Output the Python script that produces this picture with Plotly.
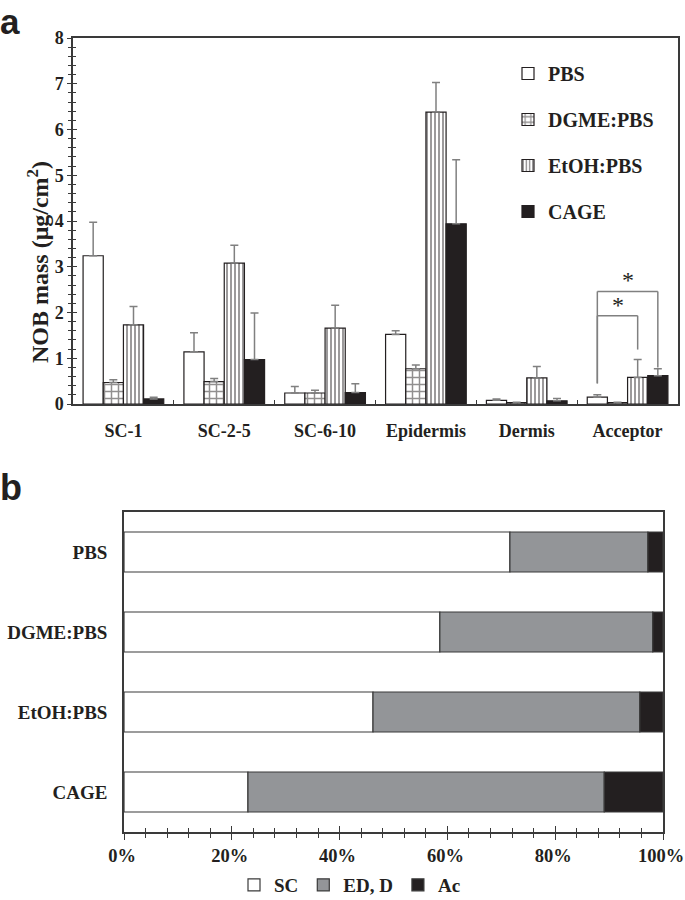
import plotly.graph_objects as go

# ---------------- data: panel a ----------------
categories = ["SC-1", "SC-2-5", "SC-6-10", "Epidermis", "Dermis", "Acceptor"]
series_names = ["PBS", "DGME:PBS", "EtOH:PBS", "CAGE"]
pbs = [3.24, 1.14, 0.24, 1.52, 0.08, 0.15]
pbs_err = [0.73, 0.42, 0.14, 0.08, 0.03, 0.05]
dgme = [0.47, 0.49, 0.24, 0.77, 0.03, 0.03]
dgme_err = [0.06, 0.07, 0.06, 0.08, 0.01, 0.01]
etoh = [1.73, 3.08, 1.66, 6.38, 0.57, 0.58]
etoh_err = [0.40, 0.39, 0.50, 0.65, 0.25, 0.39]
cage = [0.11, 0.97, 0.25, 3.94, 0.07, 0.62]
cage_err = [0.04, 1.02, 0.19, 1.40, 0.05, 0.15]
y_ticks_a = [0, 1, 2, 3, 4, 5, 6, 7, 8]
y_title_a = "NOB mass (μg/cm<sup>2</sup>)"

# significance brackets in "Acceptor": (from series, to series, bracket height, left leg end, right leg end)
sig_category = "Acceptor"
sig_pairs = [("PBS", "EtOH:PBS", 1.93, 0.45, 1.19),
             ("PBS", "CAGE", 2.46, 0.45, 0.80)]

# ---------------- data: panel b ----------------
formulations = ["PBS", "DGME:PBS", "EtOH:PBS", "CAGE"]
sc = [71.6, 58.6, 46.2, 23.0]
ed_d = [25.6, 39.5, 49.5, 66.1]
ac = [2.8, 1.9, 4.3, 10.9]
x_ticks_b = [0, 20, 40, 60, 80, 100]
x_ticklabels_b = ["0%", "20%", "40%", "60%", "80%", "100%"]

SERIF = "Liberation Serif"
TXT = "#231f20"
AX = "#3a3a3a"
ERR = "#808080"

W, H = 685, 900
def px_x(p): return p / W
def px_y(p): return 1 - p / H

fig = go.Figure()

values_a = [pbs, dgme, etoh, cage]
errs_a = [pbs_err, dgme_err, etoh_err, cage_err]
colors_a = ["white", "white", "white", TXT]
patterns_a = [dict(shape=""),
              dict(shape="+", fgcolor=TXT, bgcolor="white", size=7, solidity=0.38),
              dict(shape="|", fgcolor=TXT, bgcolor="white", size=4, solidity=0.45),
              dict(shape="")]
for i, name in enumerate(series_names):
    fig.add_trace(go.Bar(
        x=categories, y=values_a[i], name=name,
        marker=dict(color=colors_a[i], pattern=patterns_a[i],
                    line=dict(color=TXT, width=1.2)),
        error_y=dict(type="data", symmetric=False, array=errs_a[i],
                     arrayminus=[0] * len(errs_a[i]), color=ERR, thickness=1.5, width=4),
        xaxis="x", yaxis="y", legend="legend", legendgroup=name,
    ))

# invisible helper trace so the overlay tick axis is drawn
fig.add_trace(go.Scatter(x=[categories[0]], y=[0], xaxis="x", yaxis="y3", mode="markers",
                         marker=dict(opacity=0), showlegend=False, hoverinfo="skip"))

# panel b: stacked horizontal bars (bases from cumulative sums)
colors_b = ["white", "#939598", TXT]
names_b = ["SC", "ED, D", "Ac"]
vals_b = [sc, ed_d, ac]
running = [0.0] * len(formulations)
for vals, col, nm in zip(vals_b, colors_b, names_b):
    fig.add_trace(go.Bar(
        y=formulations, x=vals, base=list(running), name=nm, orientation="h",
        offsetgroup="stackb", width=0.5,
        marker=dict(color=col, line=dict(color=AX, width=1.2)),
        xaxis="x2", yaxis="y2", legend="legend2",
    ))
    running = [r + v for r, v in zip(running, vals)]
fig.add_trace(go.Scatter(x=[0], y=[formulations[0]], xaxis="x4", yaxis="y2", mode="markers",
                         marker=dict(opacity=0), showlegend=False, hoverinfo="skip"))

# bracket geometry from bar layout
bargap = 0.2
n = len(series_names)
bw = (1 - bargap) / n
def bar_center(cat, series):
    return categories.index(cat) - (1 - bargap) / 2 + bw * (series_names.index(series) + 0.5)

for s_from, s_to, h, l_end, r_end in sig_pairs:
    x0 = bar_center(sig_category, s_from)
    x1 = bar_center(sig_category, s_to)
    line = dict(color=ERR, width=1.5)
    fig.add_shape(type="line", xref="x", yref="y", x0=x0, x1=x0, y0=l_end, y1=h, line=line)
    fig.add_shape(type="line", xref="x", yref="y", x0=x0, x1=x1, y0=h, y1=h, line=line)
    fig.add_shape(type="line", xref="x", yref="y", x0=x1, x1=x1, y0=h, y1=r_end, line=line)
    fig.add_annotation(x=(x0 + x1) / 2, y=h, xref="x", yref="y", text="*",
                       showarrow=False, yanchor="bottom", yshift=-4,
                       font=dict(family=SERIF, size=24, color=TXT))

dom_a_x = [px_x(73), px_x(678)]
dom_a_y = [px_y(404), px_y(38)]
dom_b_x = [px_x(124), px_x(663)]
dom_b_y = [px_y(832), px_y(512)]

tickfont_a = dict(family=SERIF, size=18, color=TXT, weight="bold")
tickfont_b = dict(family=SERIF, size=19, color=TXT, weight="bold")

fig.update_layout(
    width=W, height=H, autosize=False,
    margin=dict(l=0, r=0, t=0, b=0, autoexpand=False),
    paper_bgcolor="white", plot_bgcolor="white",
    barmode="group", bargap=bargap, bargroupgap=0,
    showlegend=True,
    xaxis=dict(domain=dom_a_x, anchor="y", type="category", categoryorder="array",
               categoryarray=categories, showline=True, linecolor=AX, linewidth=1.5,
               mirror=True, ticks="inside", ticklen=4, tickcolor=AX, tickson="boundaries",
               tickfont=tickfont_a, ticklabelstandoff=10, showgrid=False, zeroline=False,
               automargin=False),
    yaxis=dict(domain=dom_a_y, anchor="x", range=[0, 8], tickvals=y_ticks_a,
               showline=True, linecolor=AX, linewidth=1.5, mirror=True,
               ticks="outside", ticklen=4, tickcolor=AX, tickwidth=1.3,
               minor=dict(dtick=0.2, ticks="outside", ticklen=3, tickcolor=AX, showgrid=False),
               tickfont=dict(family=SERIF, size=18, color=TXT, weight="bold"),
               showgrid=False, zeroline=False, automargin=False),
    yaxis3=dict(overlaying="y", anchor="x", side="left", range=[0, 8], tickvals=y_ticks_a,
                showline=False, showticklabels=False, ticks="inside", ticklen=4,
                tickcolor=AX, tickwidth=1.3,
                minor=dict(dtick=0.2, ticks="inside", ticklen=3, tickcolor=AX, showgrid=False),
                showgrid=False, zeroline=False),
    xaxis2=dict(domain=dom_b_x, anchor="y2", range=[0, 100], tickvals=x_ticks_b,
                ticktext=x_ticklabels_b, showline=True, linecolor=AX, linewidth=1.5,
                mirror=True, ticks="outside", ticklen=6, tickcolor=AX, tickwidth=1.3,
                minor=dict(dtick=4, ticks="outside", ticklen=4, tickcolor=AX, showgrid=False),
                tickfont=dict(family=SERIF, size=18.5, color=TXT, weight="bold"),
                ticklabelshift=-2, showgrid=False, zeroline=False, automargin=False,
                ticklabeloverflow="allow"),
    xaxis4=dict(overlaying="x2", anchor="y2", side="bottom", range=[0, 100], tickvals=x_ticks_b,
                showline=False, showticklabels=False, ticks="inside", ticklen=6,
                tickcolor=AX, tickwidth=1.3,
                minor=dict(dtick=4, ticks="inside", ticklen=4, tickcolor=AX, showgrid=False),
                showgrid=False, zeroline=False),
    yaxis2=dict(domain=dom_b_y, anchor="x2", type="category", categoryorder="array",
                categoryarray=formulations, autorange="reversed",
                showline=True, linecolor=AX, linewidth=1.5, mirror=True, ticks="",
                tickfont=tickfont_b, ticklabelstandoff=11, showgrid=False, zeroline=False,
                automargin=False),
    legend=dict(x=px_x(508), y=px_y(54), xanchor="left", yanchor="top",
                bgcolor="rgba(0,0,0,0)", tracegroupgap=17, itemwidth=30,
                font=dict(family=SERIF, size=20, color=TXT, weight="bold")),
    legend2=dict(orientation="h", x=px_x(350), y=px_y(885), xanchor="center", yanchor="middle",
                 bgcolor="rgba(0,0,0,0)", itemwidth=30,
                 font=dict(family=SERIF, size=19, color=TXT, weight="bold")),
)
# y-axis title of panel a as rotated text
fig.add_annotation(text=y_title_a, x=px_x(38), y=px_y(262), xref="paper", yref="paper",
                   textangle=-90, showarrow=False, xanchor="center", yanchor="middle",
                   font=dict(family=SERIF, size=24, color=TXT, weight="bold"))
fig.add_annotation(text="<b>a</b>", x=0, y=1, xref="paper", yref="paper", xanchor="left",
                   yanchor="top", showarrow=False, yshift=0, xshift=-2,
                   font=dict(family="Liberation Sans", size=35, color=TXT))
fig.add_annotation(text="<b>b</b>", x=0, y=px_y(465), xref="paper", yref="paper",
                   xanchor="left", yanchor="top", showarrow=False, xshift=-2,
                   font=dict(family="Liberation Sans", size=36, color=TXT))

fig.write_html("out.html", config={"displayModeBar": False},
               post_script="document.body.style.margin='0';")
